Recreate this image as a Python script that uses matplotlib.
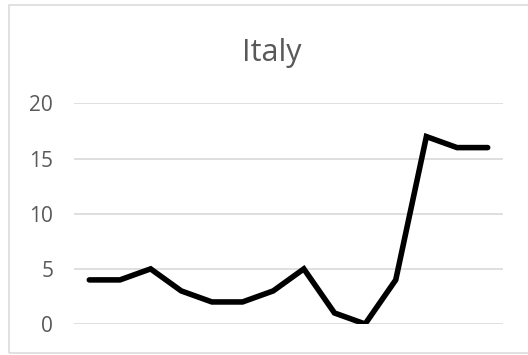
import matplotlib
matplotlib.use("Agg")
import matplotlib.pyplot as plt
from matplotlib.patches import Rectangle

# Weekly counts for Italy
periods = list(range(1, 15))
values = [4, 4, 5, 3, 2, 2, 3, 5, 1, 0, 4, 17, 16, 16]
y_ticks = [0, 5, 10, 15, 20]
title = "Italy"

W, H = 528, 355
fig = plt.figure(figsize=(W / 100, H / 100), dpi=100)
fig.patch.set_facecolor("white")

plt.rcParams["font.family"] = ["Open Sans", "DejaVu Sans"]

# chart-area frame
fig.patches.append(Rectangle((9 / W, (H - 353) / H), (W + 10 - 9) / W, (353 - 5) / H,
                             transform=fig.transFigure, fill=False,
                             edgecolor="#d9d9d9", linewidth=1.1, zorder=0))

left, right = 74 / W, 503 / W
bottom, top = (H - 324) / H, (H - 103.5) / H
ax = fig.add_axes([left, bottom, right - left, top - bottom])
ax.set_facecolor("none")

x = list(range(len(periods)))
ax.plot(x, values, color="black", linewidth=4.0, solid_capstyle="round",
        solid_joinstyle="miter", zorder=3)

ax.set_xlim(-0.5, len(periods) - 0.5)
ax.set_ylim(0, 20)
ax.set_yticks(y_ticks)
ax.set_yticklabels([str(t) for t in y_ticks])
ax.set_xticks([])
ax.tick_params(axis="y", length=0, pad=15, labelsize=15, labelcolor="#595959")
for s in ax.spines.values():
    s.set_visible(False)
ax.grid(axis="y", color="#d9d9d9", linewidth=1.2, zorder=1)
ax.set_axisbelow(True)

fig.text(271.5 / W, (H - 61) / H, title, ha="center", va="baseline",
         fontsize=22, color="#595959")

fig.savefig("out.png", dpi=100, facecolor="white")
